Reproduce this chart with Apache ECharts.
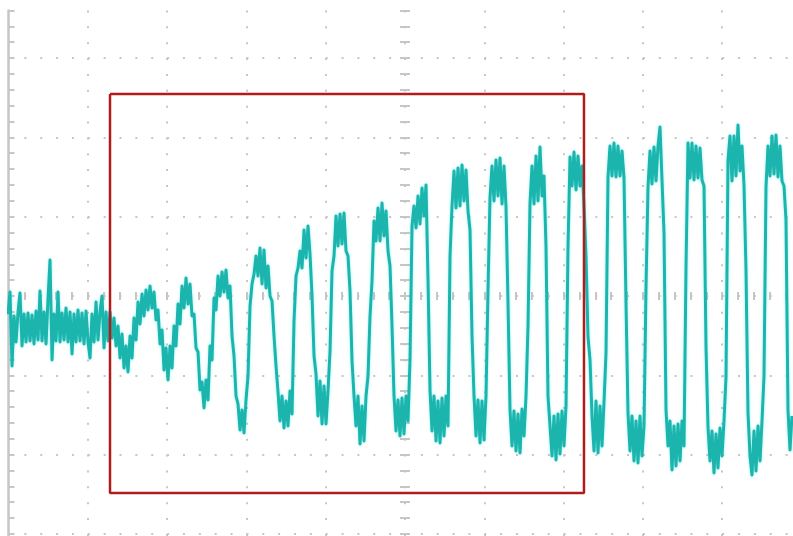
<!DOCTYPE html>
<html><head><meta charset="utf-8">
<script src="https://cdn.jsdelivr.net/npm/echarts@6/dist/echarts.min.js"></script>
<style>html,body{margin:0;padding:0;background:#fff}#c{width:793px;height:536px}</style>
</head><body><div id="c"></div>
<script>
// Time base of the captured trace (in screen divisions)
const sampleStartDiv = -5.006;
const sampleStepDiv = 0.02522;
// Vertical scale of the recorded values
const mvPerDiv = 79.3;
// Recorded trace values (mV), one per sample
const traceMv = [
  -18, 4, -70, -20, -46, -16, 3, -50, -18, -46,
  -17, -45, -19, -48, -15, -44, 5, -45, -16, -48,
  -2, 36, -64, -18, -45, 4, -46, -17, -44, -12,
  -46, -16, -58, -18, -46, -14, -45, -17, -48, -15,
  -46, -62, -18, -46, -6, -44, -16, 0, -52, -16,
  -45, -16, -42, -22, -50, -30, -62, -38, -72, -50,
  -76, -40, -62, -22, -44, -6, -28, 2, -20, 6,
  -14, 10, -12, 4, -24, -14, -48, -34, -74, -52,
  -84, -50, -72, -30, -50, -8, -28, 10, -12, 18,
  -8, 12, -20, -18, -52, -56, -94, -86, -112, -84,
  -104, -50, -64, -2, -14, 20, 0, 24, 4, 26,
  -2, 10, -40, -60, -100, -108, -134, -114, -137, -104,
  -80, -10, 12, 22, 40, 20, 48, 12, 46, 8,
  30, 0, -5, -40, -70, -96, -125, -100, -132, -105,
  -130, -95, -118, -25, 20, 28, 45, 28, 66, 38,
  70, 42, 0, -60, -78, -120, -85, -128, -90, -128,
  -95, -55, 25, 40, 80, 50, 82, 52, 83, 45,
  40, 5, -65, -100, -130, -100, -148, -110, -145, -100,
  -80, -20, 15, 75, 55, 88, 55, 93, 60, 85,
  45, 30, -30, -100, -135, -104, -140, -102, -138, -100,
  -125, -64, 70, 90, 68, 100, 72, 108, 80, 111,
  16, -94, -135, -100, -145, -105, -147, -102, -140, -100,
  -130, 40, 90, 125, 88, 128, 90, 131, 95, 126,
  85, 66, -40, -100, -140, -104, -147, -105, -144, -100,
  6, 99, 130, 95, 136, 100, 138, 92, 130, 89,
  -7, -114, -150, -115, -155, -118, -157, -113, -140, -100,
  -30, 93, 130, 92, 140, 95, 149, 100, 120, 49,
  -100, -130, -160, -120, -164, -118, -158, -115, -150, -110,
  49, 139, 110, 144, 106, 140, 110, 130, 90, 40,
  -41, -64, -120, -155, -105, -157, -110, -150, -106, -57,
  119, 150, 120, 153, 119, 150, 120, 145, 118, -7,
  -117, -155, -120, -165, -125, -167, -120, -160, -130, 9,
  109, 145, 112, 149, 115, 150, 169, 116, 63, -114,
  -150, -125, -174, -130, -170, -128, -165, -125, -150, 29,
  153, 118, 153, 116, 150, 118, 148, 116, 110, -51,
  -131, -165, -135, -177, -138, -172, -132, -160, -125, -81,
  136, 160, 115, 160, 120, 171, 125, 150, 110, 26,
  -117, -160, -179, -135, -175, -130, -165, -125, -80, 109,
  150, 120, 160, 122, 161, 119, 150, 115, 110, 76,
  -114, -154, -120
];
// Highlighted window: [timeStartDiv, topDiv], [timeEndDiv, bottomDiv]
const windowStart = [-3.72, 2.547];
const windowEnd = [2.257, -2.484];
// Screen extent in divisions
const xDivRange = [-5, 5];
const yDivRange = [-4, 3.6];

const tracePoints = traceMv.map((v, i) => [sampleStartDiv + i * sampleStepDiv, v / mvPerDiv]);
const boxPoints = [
  [windowStart[0], windowStart[1]], [windowEnd[0], windowStart[1]],
  [windowEnd[0], windowEnd[1]], [windowStart[0], windowEnd[1]],
  [windowStart[0], windowStart[1]]
];

const GRID_GRAY = '#c6c6c6';
const dotted = { color: GRID_GRAY, width: 2, type: [2, 13.86] };
const tickStyle = { color: GRID_GRAY, width: 2 };

function centerX(pos) {
  return { type: 'value', min: xDivRange[0], max: xDivRange[1], interval: 1, position: pos,
    axisLine: { show: false, onZero: true, onZeroAxisIndex: 0 },
    axisTick: { show: true, length: 4, lineStyle: tickStyle },
    minorTick: { show: true, splitNumber: 5, length: 4, lineStyle: tickStyle },
    axisLabel: { show: false }, splitLine: { show: false } };
}
function centerY(pos) {
  return { type: 'value', min: yDivRange[0], max: yDivRange[1], interval: 1, position: pos,
    axisLine: { show: false, onZero: true, onZeroAxisIndex: 0 },
    axisTick: { show: true, length: 5, lineStyle: tickStyle },
    minorTick: { show: true, splitNumber: 5, length: 5, lineStyle: tickStyle },
    axisLabel: { show: false }, splitLine: { show: false } };
}

const chart = echarts.init(document.getElementById('c'), null, { renderer: 'canvas' });
chart.setOption({
  animation: false,
  backgroundColor: '#ffffff',
  grid: { left: 8.5, top: 10.5, width: 793, height: 602.7, outerBoundsMode: 'none', containLabel: false },
  xAxis: [
    { type: 'value', min: xDivRange[0], max: xDivRange[1], interval: 1,
      axisLine: { show: false, onZero: false }, axisTick: { show: false }, axisLabel: { show: false },
      splitLine: { show: true, showMinLine: false, showMaxLine: false, lineStyle: dotted } },
    centerX('bottom'), centerX('top')
  ],
  yAxis: [
    { type: 'value', min: yDivRange[0], max: yDivRange[1], interval: 1, position: 'left',
      axisLine: { show: true, onZero: false, lineStyle: { color: GRID_GRAY, width: 2.5 } },
      axisTick: { show: true, inside: true, length: 6, lineStyle: tickStyle },
      minorTick: { show: true, splitNumber: 5, length: 6, lineStyle: tickStyle },
      axisLabel: { show: false },
      splitLine: { show: true, showMinLine: false, showMaxLine: false, lineStyle: dotted } },
    centerY('left'), centerY('right')
  ],
  series: [
    { type: 'line', xAxisIndex: 0, yAxisIndex: 0, data: tracePoints, symbol: 'none',
      lineStyle: { color: '#1bb5ae', width: 3, join: 'round', shadowColor: 'rgba(0,225,225,0.4)', shadowBlur: 3 },
      z: 3, silent: true },
    { type: 'line', xAxisIndex: 0, yAxisIndex: 0, data: boxPoints, symbol: 'none',
      lineStyle: { color: '#b01c1c', width: 2.5 }, z: 4, silent: true }
  ]
});
</script>
</body></html>
